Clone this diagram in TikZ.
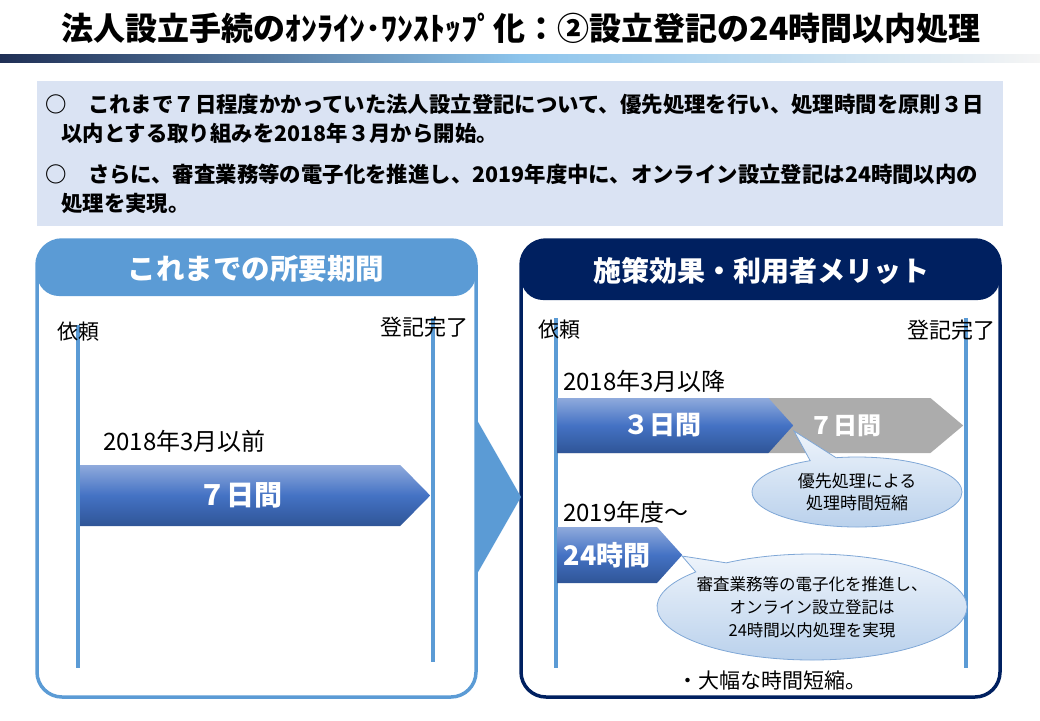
\documentclass[tikz,border=0pt]{standalone}
\usepackage{fontspec}
\setmainfont{Noto Sans CJK JP}
\usetikzlibrary{shapes.symbols,shapes.callouts}
\definecolor{lblue}{HTML}{5B9BD5}
\definecolor{navy}{HTML}{002060}
\definecolor{boxfill}{HTML}{DAE3F3}
\definecolor{bartop}{HTML}{8FAADC}
\definecolor{barmid}{HTML}{4472C4}
\definecolor{barbot}{HTML}{2F5597}
\definecolor{calltop}{HTML}{EEF4FB}
\definecolor{callbot}{HTML}{B7CFEB}
\definecolor{calledge}{HTML}{7FA7D6}
\definecolor{barleft}{HTML}{1F2F55}
\definecolor{barcentre}{HTML}{8CC4EC}

\begin{document}
\begin{tikzpicture}
    [x=1pt,y=-1pt,every node/.style={inner sep=0pt},
     fs/.style={font=\fontsize{#1}{#1}\selectfont},
     timeline/.style={lblue, line width=4pt},
     period/.style={signal, signal to=east, anchor=west, minimum height=55pt, text=white,
       top color=bartop, bottom color=barbot, middle color=barmid,
       font=\bfseries\fontsize{26}{26}\selectfont},
     bubble/.style={ellipse callout, draw=calledge, line width=0.8pt, top color=calltop,
       bottom color=callbot, align=center, font=\fontsize{17}{22}\selectfont},
     head/.style={text=white, font=\bfseries\fontsize{28.5}{28.5}\selectfont}]
  \useasboundingbox (0,0) rectangle (1040,720);

  % title and bar
  \node[fs=32] (title) at (521,28) {\bfseries 法人設立手続のｵﾝﾗｲﾝ･ﾜﾝｽﾄｯﾌﾟ化：②設立登記の24時間以内処理};
  \shade[left color=barleft, right color=gray!8, middle color=barcentre] (0,54) rectangle (1040,62);

  % summary box
  \fill[boxfill] (37,81) rectangle (1003,226);
  \node[fs=21.4, anchor=west] (s1) at (45,104) {\bfseries ○　これまで７日程度かかっていた法人設立登記について、優先処理を行い、処理時間を原則３日};
  \node[fs=21.4, anchor=west] (s2) at (61,133) {\bfseries 以内とする取り組みを2018年３月から開始。};
  \node[fs=21.4, anchor=west] (s3) at (45,174) {\bfseries ○　さらに、審査業務等の電子化を推進し、2019年度中に、オンライン設立登記は24時間以内の};
  \node[fs=21.4, anchor=west] (s4) at (61,203) {\bfseries 処理を実現。};

  % panels
  \draw[lblue, line width=3.5pt, rounded corners=25pt] (37,240) rectangle (476,697);
  \fill[lblue, rounded corners=22pt] (37,240) rectangle (476,296);
  \node[head] (lhead) at (256,269) {これまでの所要期間};
  \draw[navy, line width=3.5pt, rounded corners=25pt] (521,240) rectangle (1000,697);
  \fill[navy, rounded corners=22pt] (521,240) rectangle (1000,300);
  \node[head, font=\bfseries\fontsize{28}{28}\selectfont] (rhead) at (761,271) {施策効果・利用者メリット};
  \fill[lblue] (477,420) -- (521,497) -- (477,574) -- cycle;

  % time lines
  \foreach \x/\ya/\yb in {78/325/668, 433/318/662, 556/318/668, 966/318/668}
    \draw[timeline] (\x,\ya) -- (\x,\yb);
  \node[fs=21] (lreq) at (78,332) {依頼};
  \node[fs=22] (ldone) at (424,327) {登記完了};
  \node[fs=21] (rreq) at (559,330) {依頼};
  \node[fs=22] (rdone) at (951,330) {登記完了};

  % before
  \node[fs=24, anchor=west] (before) at (103,441) {2018年3月以前};
  \node[period, minimum width=350pt, minimum height=61pt, signal pointer angle=91,
    font=\bfseries\fontsize{28}{28}\selectfont] (p7) at (80,495.5) {７日間};

  % after
  \node[fs=24, anchor=west] (after18) at (563,381) {2018年3月以降};
  \node[signal, signal to=east, signal pointer angle=80, anchor=west, minimum width=406pt,
    minimum height=55pt, fill=gray!65] (g7) at (557,425.5) {};
  \node[text=white, font=\bfseries\fontsize{24}{24}\selectfont] (g7txt) at (845,426) {７日間};
  \node[period, minimum width=236pt, signal pointer angle=96] (p3) at (557,425.5) {３日間};
  \node[bubble, minimum width=210pt, minimum height=70pt, callout absolute pointer={(794,431)}]
    (c1) at (857,492) {優先処理による\\処理時間短縮};

  \node[fs=24, anchor=west] (after19) at (563,512) {2019年度～};
  \node[period, minimum width=125pt, minimum height=56pt, signal pointer angle=96,
    font=\bfseries\fontsize{27}{27}\selectfont] (p24) at (557,555) {24時間};
  \node[bubble, minimum width=310pt, minimum height=106pt, callout absolute pointer={(682,556)}]
    (c2) at (812,607) {};
  \node[align=center, font=\fontsize{16.5}{23}\selectfont] (c2txt) at (c2.center)
    {審査業務等の電子化を推進し、\\オンライン設立登記は\\24時間以内処理を実現};
  \node[fs=21] (gain) at (772,680) {・大幅な時間短縮。};
\end{tikzpicture}
\end{document}
